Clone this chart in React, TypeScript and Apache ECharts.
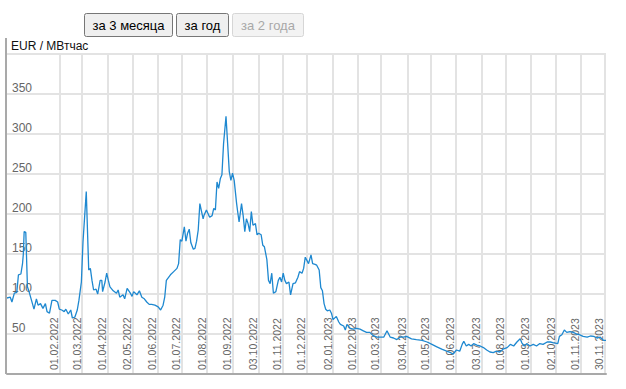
import { useEffect, useRef } from "react";
import * as echarts from "echarts";

const dates: string[] = [
  "2021-11-29","2021-12-03","2021-12-05","2021-12-08","2021-12-11","2021-12-13","2021-12-16","2021-12-18","2021-12-19","2021-12-20",
  "2021-12-22","2021-12-24","2021-12-26","2021-12-29","2022-01-01","2022-01-04","2022-01-06","2022-01-09","2022-01-12","2022-01-15",
  "2022-01-17","2022-01-20","2022-01-23","2022-01-27","2022-01-30","2022-02-01","2022-02-04","2022-02-07","2022-02-09","2022-02-12",
  "2022-02-15","2022-02-17","2022-02-20","2022-02-23","2022-02-25","2022-02-28","2022-03-02","2022-03-06","2022-03-09","2022-03-11",
  "2022-03-13","2022-03-15","2022-03-18","2022-03-20","2022-03-23","2022-03-25","2022-03-26","2022-03-29","2022-03-31","2022-04-02",
  "2022-04-04","2022-04-08","2022-04-12","2022-04-14","2022-04-16","2022-04-20","2022-04-22","2022-04-25","2022-04-29","2022-05-01",
  "2022-05-03","2022-05-07","2022-05-10","2022-05-13","2022-05-16","2022-05-19","2022-05-22","2022-05-25","2022-05-29","2022-06-02",
  "2022-06-05","2022-06-08","2022-06-10","2022-06-12","2022-06-17","2022-06-21","2022-06-25","2022-06-27","2022-06-29","2022-07-01",
  "2022-07-04","2022-07-06","2022-07-08","2022-07-10","2022-07-12","2022-07-15","2022-07-17","2022-07-19","2022-07-21","2022-07-23",
  "2022-07-27","2022-07-28","2022-07-31","2022-08-04","2022-08-07","2022-08-09","2022-08-11","2022-08-13","2022-08-15","2022-08-17",
  "2022-08-19","2022-08-21","2022-08-24","2022-08-26","2022-08-28","2022-08-30","2022-09-01","2022-09-03","2022-09-06","2022-09-07",
  "2022-09-09","2022-09-12","2022-09-14","2022-09-16","2022-09-18","2022-09-20","2022-09-22","2022-09-24","2022-09-26","2022-09-29",
  "2022-10-01","2022-10-03","2022-10-06","2022-10-08","2022-10-10","2022-10-13","2022-10-15","2022-10-17","2022-10-19","2022-10-21",
  "2022-10-24","2022-10-27","2022-10-29","2022-10-31","2022-11-02","2022-11-04","2022-11-06","2022-11-09","2022-11-11","2022-11-14",
  "2022-11-17","2022-11-20","2022-11-22","2022-11-25","2022-11-27","2022-11-29","2022-12-01","2022-12-03","2022-12-06","2022-12-08",
  "2022-12-11","2022-12-13","2022-12-16","2022-12-18","2022-12-20","2022-12-22","2022-12-24","2022-12-26","2022-12-29","2022-12-31",
  "2023-01-02","2023-01-06","2023-01-09","2023-01-11","2023-01-15","2023-01-17","2023-01-19","2023-01-23","2023-01-27","2023-01-31",
  "2023-02-04","2023-02-08","2023-02-12","2023-02-16","2023-02-20","2023-02-25","2023-03-01","2023-03-05","2023-03-09","2023-03-13",
  "2023-03-17","2023-03-21","2023-03-25","2023-03-29","2023-04-02","2023-04-08","2023-04-14","2023-04-21","2023-04-27","2023-05-03",
  "2023-05-09","2023-05-15","2023-05-21","2023-05-25","2023-05-29","2023-06-02","2023-06-06","2023-06-09","2023-06-11","2023-06-14",
  "2023-06-17","2023-06-20","2023-06-23","2023-06-27","2023-07-01","2023-07-05","2023-07-09","2023-07-13","2023-07-17","2023-07-21",
  "2023-07-25","2023-07-29","2023-08-03","2023-08-07","2023-08-11","2023-08-15","2023-08-19","2023-08-21","2023-08-24","2023-08-27",
  "2023-08-31","2023-09-04","2023-09-08","2023-09-12","2023-09-16","2023-09-21","2023-09-25","2023-09-29","2023-10-04","2023-10-06",
  "2023-10-09","2023-10-12","2023-10-15","2023-10-19","2023-10-23","2023-10-27","2023-10-31","2023-11-04","2023-11-09","2023-11-13",
  "2023-11-17","2023-11-21","2023-11-25","2023-11-29","2023-12-02"
];

const prices: number[] = [
  95,96,90,101,102,124,125,138,150,178,
  177,109,103,92,81,94,86,88,82,88,
  78,76,92,92,90,81,80,78,81,75,
  80,70,71,80,92,115,165,228,130,132,
  117,105,106,100,117,117,103,115,126,117,
  109,104,101,105,96,99,94,107,101,97,
  103,99,104,96,94,90,87,87,86,84,
  80,86,96,117,124,128,132,138,168,166,
  184,166,176,181,164,156,157,166,180,213,
  194,198,205,196,198,207,205,240,232,244,
  249,288,322,288,253,242,251,242,213,205,
  190,213,198,178,194,188,178,203,186,188,
  174,176,174,161,159,143,117,113,126,101,
  103,117,121,115,126,117,113,115,99,113,
  114,121,128,126,132,146,142,138,149,138,
  137,136,130,108,104,88,81,79,80,76,
  68,72,65,62,60,55,62,57,56,57,
  56,54,52,52,48,46,46,46,54,46,
  45,43,46,46,47,44,43,42,40,37,
  34,31,28.5,27,25,30,28.5,37,41,35,
  37,35,38,36,35,33,30,27.5,26.7,28.5,
  27.5,31,33,37,35,40,44,39,35,38,
  35,37,35,38,37,40,40,39,38,47,
  49,55,52,53,52,50,49,47,46,47.5,
  47,45,46,42,42
];

const tickLabels: string[] = [
  "01.02.2022","01.03.2022","01.04.2022","02.05.2022","01.06.2022","01.07.2022","01.08.2022","01.09.2022",
  "03.10.2022","01.11.2022","01.12.2022","02.01.2023","01.02.2023","01.03.2023","03.04.2023","01.05.2023",
  "01.06.2023","03.07.2023","01.08.2023","01.09.2023","02.10.2023","01.11.2023","30.11.2023"
];

const axisStart = "2021-11-29";
const axisEnd = "2023-12-02";
const unitLabel = "EUR / МВтчас";
const buttonLabels = ["за 3 месяца", "за год", "за 2 года"];

function isoTs(s: string): number {
  const [y, m, d] = s.split("-").map(Number);
  return new Date(y, m - 1, d).getTime();
}
function dmyTs(s: string): number {
  const [d, m, y] = s.split(".").map(Number);
  return new Date(y, m - 1, d).getTime();
}
function pad(n: number) {
  return n < 10 ? "0" + n : String(n);
}
function fmt(t: number): string {
  const d = new Date(t);
  return pad(d.getDate()) + "." + pad(d.getMonth() + 1) + "." + d.getFullYear();
}

export default function App() {
  const ref = useRef<HTMLDivElement>(null);
  useEffect(() => {
    if (!ref.current) return;
    const chart = echarts.init(ref.current, null, { renderer: "svg" });
    const tickValues = tickLabels.map(dmyTs);
    const font = "Arial, 'Liberation Sans', sans-serif";
    const buttons = [
      { x: 84, w: 88, label: buttonLabels[0], disabled: false },
      { x: 176, w: 52, label: buttonLabels[1], disabled: false },
      { x: 232, w: 71, label: buttonLabels[2], disabled: true },
    ];
    const graphic: any[] = [
      { type: "rect", shape: { x: 5, y: 38, width: 2, height: 336 }, style: { fill: "#a9a9a9" }, z: 10 },
      {
        type: "text",
        x: 11,
        y: 46,
        style: { text: unitLabel, fontSize: 12, fontFamily: font, fill: "#111", verticalAlign: "middle", align: "left" },
        z: 10,
      },
    ];
    buttons.forEach((b) => {
      graphic.push({
        type: "rect",
        shape: { x: b.x + 0.5, y: 13.5, width: b.w, height: 23, r: 2 },
        style: {
          fill: b.disabled ? "#f3f3f3" : "#efefef",
          stroke: b.disabled ? "#d6d6d6" : "#767676",
          lineWidth: 1,
        },
        z: 10,
      });
      graphic.push({
        type: "text",
        x: b.x + 0.5 + b.w / 2,
        y: 25,
        style: {
          text: b.label,
          fontSize: 13,
          fontFamily: font,
          fill: b.disabled ? "#a8a8a8" : "#000",
          align: "center",
          verticalAlign: "middle",
        },
        z: 11,
      });
    });

    chart.setOption({
      animation: false,
      grid: { left: 7, right: 20, top: 54, bottom: 15, containLabel: false },
      xAxis: {
        type: "value",
        min: isoTs(axisStart),
        max: isoTs(axisEnd),
        axisLine: { show: true, onZero: false, lineStyle: { color: "#a9a9a9", width: 2 } },
        axisTick: { show: false, customValues: tickValues },
        axisLabel: {
          customValues: tickValues,
          inside: true,
          rotate: 90,
          align: "left",
          verticalAlign: "bottom",
          margin: 4,
          fontSize: 10.5,
          fontFamily: font,
          color: "#666",
          formatter: (v: number) => fmt(v),
          hideOverlap: false,
          showMinLabel: true,
          showMaxLabel: true,
        },
        splitLine: { show: true, lineStyle: { color: "#e3e3e3", width: 2 } },
      },
      yAxis: {
        type: "value",
        min: 0,
        max: 400,
        interval: 50,
        axisLine: { show: false },
        axisTick: { show: false },
        axisLabel: {
          inside: true,
          align: "left",
          verticalAlign: "bottom",
          margin: 5,
          fontSize: 12,
          fontFamily: font,
          color: "#666",
          formatter: (v: number) => (v > 0 && v < 400 ? String(v) : ""),
        },
        splitLine: { show: true, lineStyle: { color: "#e3e3e3", width: 2 } },
      },
      graphic,
      series: [
        {
          type: "line",
          data: dates.map((d, i) => [isoTs(d), prices[i]]),
          showSymbol: false,
          symbol: "none",
          lineStyle: { color: "#1e88d0", width: 1.3 },
          z: 5,
        },
      ],
    });
    return () => chart.dispose();
  }, []);
  return <div ref={ref} style={{ position: "absolute", left: 0, top: 0, width: 626, height: 389 }} />;
}
